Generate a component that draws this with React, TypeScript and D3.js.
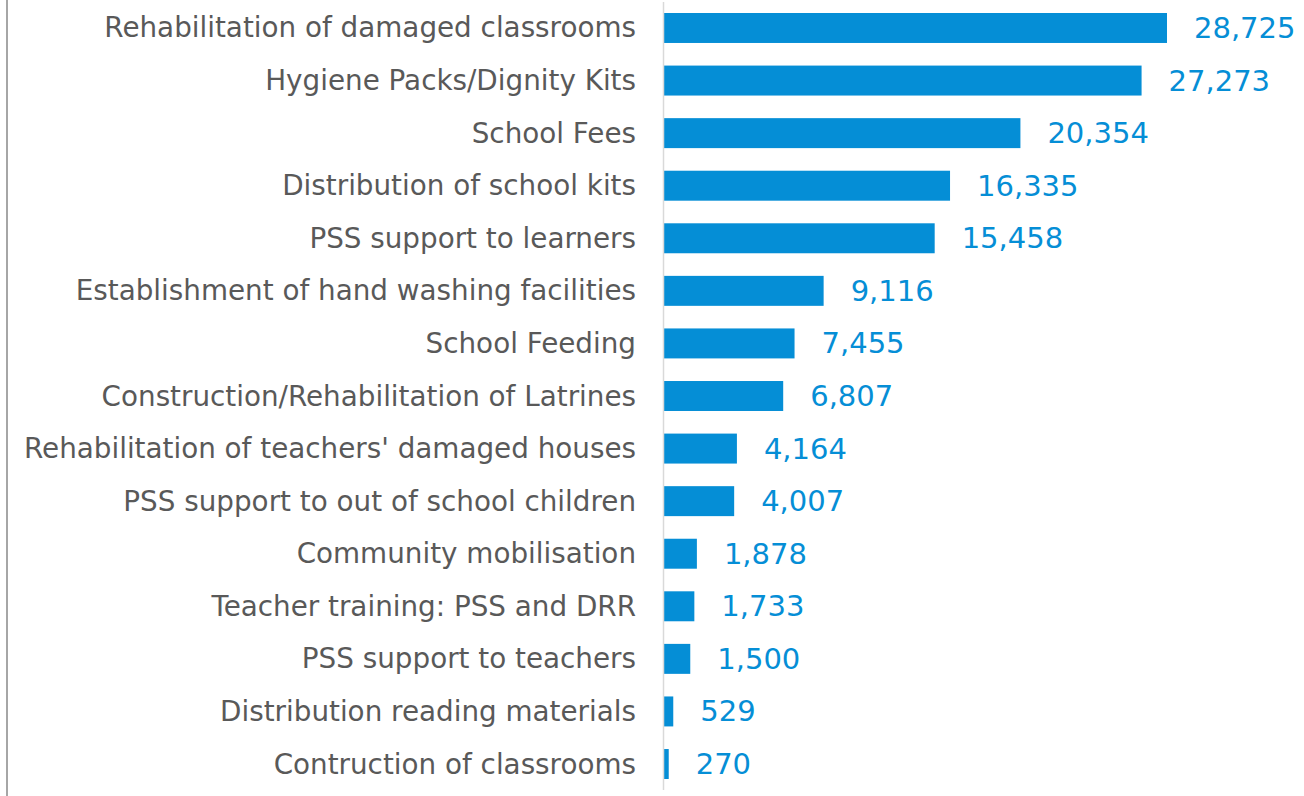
import React from "react";
import * as d3 from "d3";

const categories = [
  "Rehabilitation of damaged classrooms",
  "Hygiene Packs/Dignity Kits",
  "School Fees",
  "Distribution of school kits",
  "PSS support to learners",
  "Establishment of hand washing facilities",
  "School Feeding",
  "Construction/Rehabilitation of Latrines",
  "Rehabilitation of teachers' damaged houses",
  "PSS support to out of school children",
  "Community mobilisation",
  "Teacher training: PSS and DRR",
  "PSS support to teachers",
  "Distribution reading materials",
  "Contruction of classrooms",
];

const values = [28725, 27273, 20354, 16335, 15458, 9116, 7455, 6807, 4164, 4007, 1878, 1733, 1500, 529, 270];

const W = 1304;
const H = 796;
const BAR_COLOR = "#058ed6";
const LABEL_COLOR = "#595959";
const FONT = "Verdana, 'DejaVu Sans', sans-serif";

export default function App() {
  const x = d3.scaleLinear().domain([0, d3.max(values) as number]).range([664, 1167]);
  const y = d3
    .scaleBand<string>()
    .domain(categories)
    .range([1.7, 790.3])
    .paddingInner(0.43)
    .paddingOuter(0.215);
  const fmt = d3.format(",");

  return (
    <svg
      width={W}
      height={H}
      style={{ position: "absolute", left: 0, top: 0, display: "block", background: "#fff" }}
    >
      <line x1={7} x2={7} y1={0} y2={H} stroke="#a6a6a6" strokeWidth={2} />
      {categories.map((c, i) => {
        const yy = y(c) as number;
        const cy = yy + y.bandwidth() / 2;
        return (
          <g key={c}>
            <rect x={x(0)} y={yy} width={x(values[i]) - x(0)} height={y.bandwidth()} fill={BAR_COLOR} />
            <text
              x={636}
              y={cy}
              textAnchor="end"
              dominantBaseline="central"
              fontFamily={FONT}
              fontSize={27.8}
              fill={LABEL_COLOR}
            >
              {c}
            </text>
            <text
              x={x(values[i]) + 27}
              y={cy}
              dominantBaseline="central"
              fontFamily={FONT}
              fontSize={29}
              fill={BAR_COLOR}
            >
              {fmt(values[i])}
            </text>
          </g>
        );
      })}
      <line x1={663.5} x2={663.5} y1={2} y2={790} stroke="#d9d9d9" strokeWidth={1.5} />
    </svg>
  );
}
